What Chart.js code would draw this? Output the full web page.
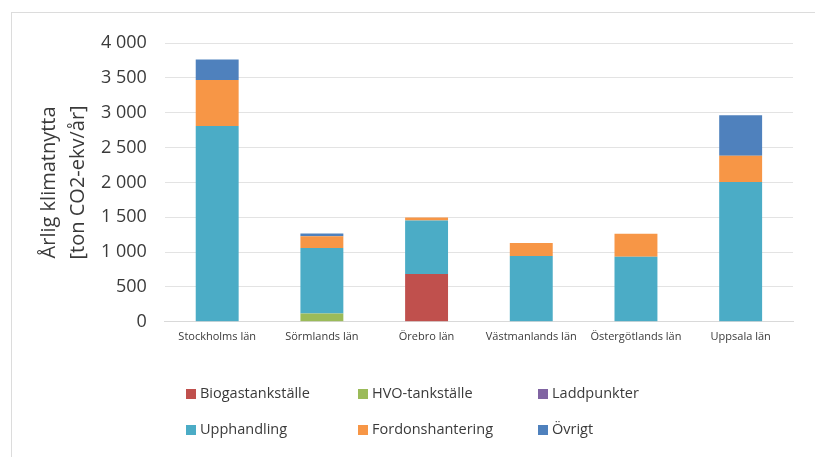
<!DOCTYPE html>
<html lang="sv">
<head>
  <meta charset="UTF-8" />
  <title>Årlig klimatnytta</title>
  <script src="https://cdn.jsdelivr.net/npm/chart.js"></script>
  <style>
    body {
      margin: 0;
      background: #fff;
      font-family: 'Open Sans', sans-serif;
    }

    .frame {
      position: absolute;
      left: 11px;
      top: 12px;
      width: 804px;
      height: 445px;
      border-left: 1px solid #dcdcdc;
      border-top: 1px solid #dcdcdc;
    }

    .chart-box {
      position: absolute;
      left: 0;
      top: 0;
      width: 815px;
      height: 355px;
    }

    .legend {
      position: absolute;
      left: 0;
      top: 0;
      width: 815px;
      height: 457px;
      pointer-events: none;
    }

    .legend-item {
      position: absolute;
      font-size: 14.5px;
      color: #3a3a3a;
      line-height: 20px;
      white-space: nowrap;
    }

    .legend-item span {
      display: inline-block;
      width: 10px;
      height: 10px;
      margin-right: 4px;
      vertical-align: -1px;
    }
  </style>
</head>
<body>

<div class="frame"></div>
<div class="chart-box"><canvas id="chart"></canvas></div>
<div class="legend" id="legend"></div>

<script>
const categories = ['Stockholms län', 'Sörmlands län', 'Örebro län', 'Västmanlands län', 'Östergötlands län', 'Uppsala län'];

const biogastankstalle = [0, 0, 686, 0, 0, 0];
const hvoTankstalle    = [0, 120, 0, 0, 0, 0];
const laddpunkter      = [0, 0, 0, 0, 0, 0];
const upphandling      = [2810, 940, 767, 945, 935, 2004];
const fordonshantering = [660, 167, 43, 187, 330, 380];
const ovrigt           = [295, 40, 0, 0, 0, 580];

const yTicks = [0, 500, 1000, 1500, 2000, 2500, 3000, 3500, 4000];

const series = [
  { label: 'Biogastankställe', data: biogastankstalle, color: '#c0504d' },
  { label: 'HVO-tankställe',   data: hvoTankstalle,    color: '#9bbb59' },
  { label: 'Laddpunkter',      data: laddpunkter,      color: '#8064a2' },
  { label: 'Upphandling',      data: upphandling,      color: '#4bacc6' },
  { label: 'Fordonshantering', data: fordonshantering, color: '#f79646' },
  { label: 'Övrigt',           data: ovrigt,           color: '#4f81bd' }
];

// legend spots, 3 columns x 2 rows
const legendPos = [[186, 383], [358, 383], [538, 383], [186, 419], [358, 419], [538, 419]];

function fmt(v) {
  return String(v).replace(/\B(?=(\d{3})+(?!\d))/g, ' ');
}

new Chart(document.getElementById('chart'), {
  type: 'bar',
  data: {
    labels: categories,
    datasets: series.map(s => ({
      label: s.label,
      data: s.data,
      backgroundColor: s.color,
      borderWidth: 0,
      barPercentage: 0.41,
      categoryPercentage: 1
    }))
  },
  options: {
    responsive: true,
    maintainAspectRatio: false,
    animation: false,
    layout: { padding: { top: 43, right: 22, left: 31, bottom: 4 } },
    plugins: {
      legend: { display: false },
      tooltip: { enabled: false }
    },
    scales: {
      x: {
        stacked: true,
        grid: { display: false, drawTicks: false },
        border: { color: '#d9d9d9' },
        ticks: { color: '#3a3a3a', font: { family: 'Open Sans', size: 11 }, padding: 8, maxRotation: 0, autoSkip: false }
      },
      y: {
        stacked: true,
        min: 0,
        max: 4000,
        afterBuildTicks: axis => { axis.ticks = yTicks.map(v => ({ value: v })); },
        grid: { color: '#e3e3e3', drawTicks: false },
        border: { display: false },
        ticks: { color: '#3a3a3a', font: { family: 'Open Sans', size: 18 }, padding: 18, callback: v => fmt(v) },
        title: {
          display: true,
          text: ['Årlig klimatnytta', '[ton CO2-ekv/år]'],
          color: '#3a3a3a',
          font: { family: 'Open Sans', size: 20, lineHeight: 1.45 },
          padding: { top: 4, bottom: -10 }
        }
      }
    }
  }
});

const legend = document.getElementById('legend');
series.forEach((s, i) => {
  const item = document.createElement('div');
  item.className = 'legend-item';
  item.style.left = legendPos[i][0] + 'px';
  item.style.top = legendPos[i][1] + 'px';
  item.innerHTML = `<span style="background:${s.color}"></span>${s.label}`;
  legend.appendChild(item);
});
</script>

</body>
</html>
